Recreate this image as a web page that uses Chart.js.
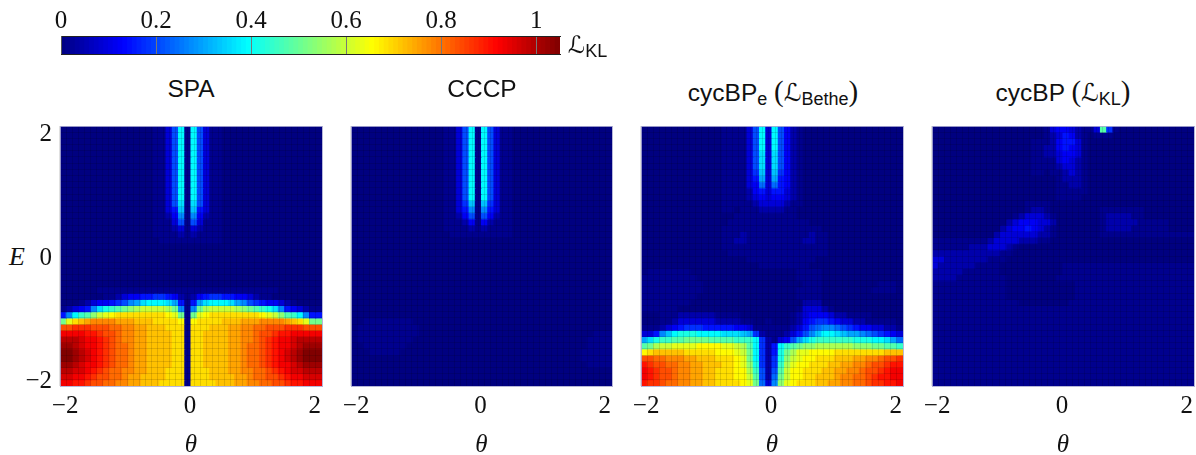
<!DOCTYPE html>
<html>
<head>
<meta charset="utf-8">
<title>Heatmap panels</title>
<script src="https://cdn.jsdelivr.net/npm/chart.js@4"></script>
<style>
    html, body { margin: 0; padding: 0; background: #fff; overflow: hidden; width: 1196px; height: 455px; }
    canvas { position: absolute; }
    .label { position: absolute; white-space: nowrap; color: #111; line-height: 1; }
    .title { font-family: "Liberation Sans", sans-serif; font-size: 24.5px; transform: translateX(-50%); top: 77px; }
    .title sub, #legendName sub { font-size: 18px; vertical-align: baseline; position: relative; top: 4px; }
    .script { font-family: "DejaVu Sans", serif; }
    .paren { font-family: "Liberation Serif", serif; font-size: 29px; }
    #energyLabel { font-family: "Liberation Serif", serif; font-style: italic; font-size: 26px; left: 9px; top: 244px; }
    #legendName { font-family: "Liberation Sans", sans-serif; font-size: 24px; left: 568px; top: 33px; }
</style>
</head>
<body>
<canvas id="colorbar" width="600" height="60" style="left:0;top:0"></canvas>
<div class="label" id="legendName"><span class="script">ℒ</span><sub>KL</sub></div>

<div class="label title" style="left:191px">SPA</div>
<div class="label title" style="left:482px">CCCP</div>
<div class="label title" style="left:773px">cycBP<sub>e</sub> <span class="paren">(</span><span class="script">ℒ</span><sub>Bethe</sub><span class="paren">)</span></div>
<div class="label title" style="left:1063px">cycBP <span class="paren">(</span><span class="script">ℒ</span><sub>KL</sub><span class="paren">)</span></div>
<div class="label" id="energyLabel">E</div>

<canvas id="spa" width="326" height="340" style="left:0;top:120px"></canvas>
<canvas id="cccp" width="295" height="340" style="left:321px;top:120px"></canvas>
<canvas id="cycbpe" width="296" height="340" style="left:611px;top:120px"></canvas>
<canvas id="cycbp" width="296" height="340" style="left:902px;top:120px"></canvas>

<script>
// Each string is one row of cells, top row first (E = 2.1 going down), 42 columns
// from theta = -2 to 2.1. One base 36 digit per cell, value = digit * 0.03,
// except digits 1 and 2 which are the faint patch levels (see faintValues).
const spaRows = [
    "0000000000000001137d1d73110000000000000000",
    "0000000000000001137d1d73110000000000000000",
    "0000000000000001137d1d73110000000000000000",
    "0000000000000001137d1d73110000000000000000",
    "0000000000000001137d1d73110000000000000000",
    "0000000000000001137d1d73110000000000000000",
    "0000000000000001137d1d73110000000000000000",
    "0000000000000001137d1d73110000000000000000",
    "0000000000000001137d1d73110000000000000000",
    "0000000000000001137d1d73110000000000000000",
    "0000000000000001137d1d73110000000000000000",
    "0000000000000001137d1d73110000000000000000",
    "0000000000000001137c1c73110000000000000000",
    "0000000000000001135b1b53110000000000000000",
    "000000000000000112491942110000000000000000",
    "000000000000000111371731110000000000000000",
    "000000000000000111231321110000000000000000",
    "000000000000000111121211110000000000000000",
    "000000000000000011111111110000000000000000",
    "000000000000000000000000000000000000000000",
    "000000000000000000000000000000000000000000",
    "000000000000000000000000000000000000000000",
    "000000000000000000000000000000000000000000",
    "000000000000000000000000000000000000000000",
    "000000000000000000000000000000000000000000",
    "000000000000000000000000000000000000000000",
    "000000111111111111111111111111111110000000",
    "000000011234455665421245665544321100000000",
    "000123445679acdddca515acdddca9765443210000",
    "123459cefghijkkkkjh919hjkkkkjihgfec9543211",
    "59dfgiklmnnnnnnnnmlh1hlmnnnnnnnnmlkigfd955",
    "hlnopqqqqpppooonnnnm1mnnnnooopppqqqqponlhh",
    "sstttsssrrqqppooonnn1nnnoooppqqrrssstttsss",
    "vvvvuutssrqqppoooonn1nnooooppqqrsstuuvvvvv",
    "xxxwvvutsrqqppoooonn1nnooooppqqrstuvvwxxxx",
    "yyxwvvutsrrqppoooonn1nnooooppqrrstuvvwxyyy",
    "zzyxwvutsrrqppoooonn1nnooooppqrrstuvwxyzzz",
    "zzyxwvutsrrqppoooonn1nnooooppqrrstuvwxyzzz",
    "yyxwvvutsrrqppoooonn1nnooooppqrrstuvvwxyyy",
    "xxwwvutsrrqqppooonnn1nnnoooppqqrrstuvwwxxx",
    "wwvvutssrrqppoooonnn1nnnooooppqrrsstuvvwww",
    "vvuutssrrqqppooonnnn1nnnnoooppqqrrsstuuvvv",
];

const cccpRows = [
    "0000000000000001137d1d73110000000000000000",
    "0000000000000001137d1d73110000000000000000",
    "0000000000000001137d1d73110000000000000000",
    "0000000000000001137d1d73110000000000000000",
    "0000000000000001137d1d73110000000000000000",
    "0000000000000001137d1d73110000000000000000",
    "0000000000000001137d1d73110000000000000000",
    "0000000000000001137d1d73110000000000000000",
    "0000000000000001137d1d73110000000000000000",
    "0000000000000001137d1d73110000000000000000",
    "0000000000000001137d1d73110000000000000000",
    "0000000000000001137d1d73110000000000000000",
    "0000000000000001136b1b63110000000000000000",
    "000000000000000113591953110000000000000000",
    "000000000000000112471742110000000000000000",
    "000000000000000111241421110000000000000000",
    "000000000000000111121211110000000000000000",
    "000000000000000011111111110000000000000000",
    "000000000000000000000000000000000000000000",
    "000000000000000000000000000000000000000000",
    "000000000000000000000000000000000000000000",
    "000000000000000000000000000000000000000000",
    "000000000000000000000000000000000000000000",
    "000000000000000000000000000000000000000000",
    "000000000000000000000000000000000000000000",
    "000000000000000000000000000000000000000000",
    "000000000000000000000000000000000000000000",
    "000000000000000000000000000000000000000000",
    "000000000000000000000000000000000000000000",
    "000000000000000000000000000000000000000000",
    "000000000000000000000000000000000000000000",
    "001111111100000000000000000000000000000000",
    "011111111110000000000000000000000000000000",
    "011111111110000000000000000000000000000111",
    "011111111100000000000000000000000000001111",
    "001111111000000000000000000000000000001111",
    "000111110000000000000000000000000000011111",
    "000000000000000000000000000000000000011111",
    "000000000000000000000000000000000000001111",
    "000000000000000000000000000000000000000000",
    "000000000000000000000000000000000000000000",
    "000000000000000000000000000000000000000000",
];

const cycbpeRows = [
    "0000000000000111137d3d74210000000000000000",
    "0000000000000111137d3d74210000000000000000",
    "0000000000000111137d3d74210000000000000000",
    "0000000000000111137d3d74210000000000000000",
    "0000000000000111137c3c74210000000000000000",
    "0000000000000111137c3c74210000000000000000",
    "0000000000000111137c3c74210000000000000000",
    "0000000000000111136b3b64210000000000000000",
    "0000000000000111135a3a54210000000000000000",
    "000000000000011113483854210000000000000000",
    "000000000000011112453553210000000000000000",
    "000000000000011112343443210000000000000000",
    "000000000000011111233332110000000000000000",
    "000000000000011011122221100000000000000000",
    "000000000000000111111111100000000000000000",
    "000000000000001111111111111000000000000000",
    "000000000000011111111111111110000000000000",
    "000000000000011121111111111211000000000000",
    "000000000000011221111111112211000000000000",
    "000000000000011111111111111111000000000000",
    "000000000000001111111111111111000000000000",
    "000000000000000001111111111100000000000000",
    "000000000000000000011111111000000000000000",
    "011111110000000000000000011110000000000000",
    "111111111000000000000000011110000000000000",
    "111111111100000000000000001110000000001110",
    "111111111100000000000000011110000000011110",
    "111111111000000000000000011110000000000000",
    "111111110000000000000000002220000000000000",
    "111111000000000000000000013332100000000000",
    "000111222222111100000000123444322111100000",
    "000112333333222211001000124566543322111110",
    "111234566655555443111111235789987654433221",
    "3359bdeeeddddcccba6211123579bddcbaa9876543",
    "aceffgghhhhggggfffd621347aceffffffeeeddca8",
    "ghjkkllllmmmmllkjgd625dfghiijjjjjjiiihhggf",
    "mnooooonnnnnmmmlkhd625ehjllmmmmnnnnnnnnooo",
    "ssrrqqqppooonnnmlhd626eiklmmnnnoooppqqrsst",
    "utssrrqqppooonnmlie626fjlmmnnnooppqqrsstuu",
    "vutssrqqppoonnnmmjf727gkmmnnnooppqqrsstuvv",
    "vutssrqqppoonnnmmkg728hkmmnnooopqqrrstuuvv",
    "uttsrrqqppoonnnnmlh839ilmnnnooppqqrrsttuuv",
];

const cycbpRows = [
    "000000000000000000134432113g61000000000000",
    "000000000000000000123542101110000000000000",
    "000000000000000011124553100000000000000000",
    "000000000000000011224543100000000000000000",
    "000000000000000011223443100000000000000000",
    "000000000000000011113432100000000000000000",
    "000000000000000011112332100000000000000000",
    "000000000000000011011232100000000000000000",
    "000000000000000000001222100000000000000000",
    "000000000000000000001122100000000000000000",
    "000000000000000000001111100000000000000000",
    "000000000000000000001111000000000000000000",
    "000000000000000111100000000000000000000000",
    "000000000000000122100000000111111100000000",
    "000000000000012333210000000122221100000000",
    "000000000000234443320000000122222111110000",
    "000000000002344543210000000122221111110000",
    "000000000023333332210000000111111111111111",
    "111111111233332221100000000000000000000000",
    "111111222333210000000000000000000000000000",
    "222222222221100000000000000000000000000000",
    "332222222111000000000000000000000000000000",
    "322222211110000000000111111111111111111111",
    "222221111110000000000111111111111111111111",
    "222211111111000000001111111111111111111111",
    "111111111111000000000001111111111111111111",
    "111111111111000000000001111111111111111111",
    "111111111111000000000001111111111111111111",
    "111111111111110000000011111111111111111111",
    "111111111111111111111111111111111111111111",
    "111111111111111111111111111111111111111111",
    "111111111111111111111111111111111111111111",
    "111111111111111111111111111111111111111111",
    "111111111111111111111111111111111111111111",
    "111111111111111111111111111111111111111111",
    "111111111111111111111111111111111111111111",
    "111111111111111111111111111111111111111111",
    "111111111111111111111111111111111111111111",
    "111111111111111111111111111111111111111111",
    "111111111111111111111111111111111111111111",
    "111111111111111111111111111111111111111111",
    "111111111111111111111111111111111111111111",
];

const axisTicks = [-2, 0, 2];
const axisTickLabels = ["\u22122", "0", "2"];
const colorbarTicks = [0, 0.2, 0.4, 0.6, 0.8, 1];
const colorbarTickLabels = ["0", "0.2", "0.4", "0.6", "0.8", "1"];

const valueMax = 1.05;
const valueStep = 0.03;
const faintValues = { 1: 0.015, 2: 0.045 };
const cellSize = 0.1;
const tickFont = { family: "'Liberation Serif', serif", size: 25 };
const frameBorder = { color: "rgba(175, 175, 215, 0.85)", dash: [3, 3], width: 1, z: 2 };

Chart.defaults.color = "#111";
Chart.defaults.animation = false;

function clamp01(v) {
    return Math.min(1, Math.max(0, v));
}

// Jet colormap, returned as [r, g, b] from 0 to 255
function jet(value) {
    const t = value / valueMax;
    return [
        clamp01(1.5 - Math.abs(4 * t - 3)) * 255,
        clamp01(1.5 - Math.abs(4 * t - 2)) * 255,
        clamp01(1.5 - Math.abs(4 * t - 1)) * 255,
    ];
}

function rgbString(rgb) {
    const parts = rgb.map((c) => Math.round(c));
    return `rgb(${parts[0]}, ${parts[1]}, ${parts[2]})`;
}

function decodeCell(c) {
    const digit = parseInt(c, 36);
    return digit in faintValues ? faintValues[digit] : digit * valueStep;
}

// One floating bar dataset for each row of the heatmap
function buildRowDatasets(rows) {
    return rows.map((row, rowIndex) => {
        if (row.length !== 42) {
            console.error("Bad row length", rowIndex, row.length);
        }
        const top = 2.1 - rowIndex * cellSize;
        const values = Array.from(row).map(decodeCell);
        return {
            data: values.map((value, col) => ({
                x: -2 + col * cellSize,
                y: [top - cellSize, top],
            })),
            backgroundColor: values.map((v) => rgbString(jet(v))),
        };
    });
}

function setTicks(values) {
    return function (scale) {
        scale.ticks = values.map((v) => ({ value: v }));
    };
}

// Stop tick labels from pushing the plot area around
function fixSize(height, width) {
    return function (scale) {
        if (height !== null) scale.height = height;
        if (width !== null) scale.width = width;
        scale.paddingLeft = 0;
        scale.paddingRight = 0;
        scale.paddingTop = 0;
        scale.paddingBottom = 0;
    };
}

// Cell edges for the mesh lines: start, start + 0.1, ... 43 of them
function cellEdges(start) {
    const edges = [];
    for (let i = 0; i <= 42; i++) {
        edges.push(Math.round((start + i * cellSize) * 100) / 100);
    }
    return edges;
}

// Axis with no labels, only thin dark lines over the cells
function meshAxis(position, min, max) {
    const horizontal = position === "top";
    return {
        type: "linear",
        position: position,
        min: min,
        max: max,
        afterBuildTicks: setTicks(cellEdges(min)),
        afterFit: horizontal ? fixSize(0, null) : fixSize(null, 0),
        ticks: { display: false, autoSkip: false },
        grid: { color: "rgba(0, 0, 0, 0.12)", lineWidth: 1, drawTicks: false, z: 1 },
        border: { display: false },
    };
}

// Dashed edge of the plot for the two sides without a real axis
function frameAxis(position) {
    const horizontal = position === "top";
    return {
        type: "linear",
        position: position,
        afterFit: horizontal ? fixSize(0, null) : fixSize(null, 0),
        ticks: { display: false },
        grid: { display: false, drawTicks: false },
        border: frameBorder,
    };
}

function drawHeatmap(canvasId, rows, showEnergyAxis) {
    const ctx = document.getElementById(canvasId).getContext("2d");
    new Chart(ctx, {
        type: "bar",
        data: { datasets: buildRowDatasets(rows) },
        options: {
            responsive: false,
            events: [],
            layout: { padding: { left: showEnergyAxis ? 0 : 30, right: 4, top: 6, bottom: 0 } },
            datasets: {
                bar: {
                    grouped: false,
                    barPercentage: 1,
                    categoryPercentage: 1,
                    borderWidth: 0,
                    inflateAmount: 0.5,
                },
            },
            plugins: { legend: { display: false }, tooltip: { enabled: false } },
            scales: {
                x: {
                    type: "linear",
                    offset: false,
                    min: -2.05,
                    max: 2.15,
                    afterBuildTicks: setTicks(axisTicks),
                    afterFit: fixSize(74, null),
                    grid: { display: false, drawTicks: false },
                    border: frameBorder,
                    ticks: {
                        font: tickFont,
                        padding: 5,
                        labelOffset: 2,
                        maxRotation: 0,
                        autoSkip: false,
                        callback: (value) => axisTickLabels[axisTicks.indexOf(value)],
                    },
                    title: {
                        display: true,
                        text: "θ",
                        font: { family: "'Liberation Serif', serif", size: 25, style: "italic" },
                        padding: 0,
                    },
                },
                y: {
                    type: "linear",
                    min: -2.1,
                    max: 2.1,
                    afterBuildTicks: setTicks(axisTicks),
                    afterFit: fixSize(null, showEnergyAxis ? 60 : 0),
                    grid: { display: false, drawTicks: false },
                    border: frameBorder,
                    ticks: {
                        display: showEnergyAxis,
                        font: tickFont,
                        padding: 8,
                        labelOffset: 2,
                        autoSkip: false,
                        callback: (value) => axisTickLabels[axisTicks.indexOf(value)],
                    },
                },
                meshX: meshAxis("top", -2.05, 2.15),
                meshY: meshAxis("right", -2.1, 2.1),
                frameTop: frameAxis("top"),
                frameRight: frameAxis("right"),
            },
        },
    });
}

function drawColorbar() {
    const ctx = document.getElementById("colorbar").getContext("2d");

    // Colour key: 105 thin steps across the value range
    const stops = [];
    for (let i = 0; i < 105; i++) {
        stops.push((i + 0.5) * (valueMax / 105));
    }

    new Chart(ctx, {
        type: "bar",
        data: {
            datasets: [
                {
                    data: stops.map((v) => ({ x: v, y: [0, 1] })),
                    backgroundColor: stops.map((v) => rgbString(jet(v))),
                },
            ],
        },
        options: {
            responsive: false,
            events: [],
            layout: { padding: { left: 61, right: 40, top: 0, bottom: 6 } },
            datasets: {
                bar: { barPercentage: 1, categoryPercentage: 1, inflateAmount: 0.5 },
            },
            plugins: { legend: { display: false }, tooltip: { enabled: false } },
            scales: {
                x: {
                    type: "linear",
                    position: "top",
                    offset: false,
                    min: 0,
                    max: valueMax,
                    afterBuildTicks: setTicks(colorbarTicks),
                    afterFit: fixSize(36, null),
                    grid: { color: "#777", drawTicks: false, offset: false, z: 1 },
                    border: { color: "#222", z: 2 },
                    ticks: {
                        font: tickFont,
                        padding: 0,
                        maxRotation: 0,
                        autoSkip: false,
                        callback: (value) =>
                            colorbarTickLabels[colorbarTicks.indexOf(value)],
                    },
                },
                y: {
                    type: "linear",
                    min: 0,
                    max: 1,
                    ticks: { display: false },
                    grid: { display: false, drawTicks: false },
                    border: { color: "#555", z: 2 },
                    afterFit: fixSize(null, 0),
                },
                edgeBottom: {
                    type: "linear",
                    position: "bottom",
                    ticks: { display: false },
                    grid: { display: false, drawTicks: false },
                    border: { color: "#222", z: 2 },
                    afterFit: fixSize(0, null),
                },
            },
        },
    });
}

drawColorbar();
drawHeatmap("spa", spaRows, true);
drawHeatmap("cccp", cccpRows, false);
drawHeatmap("cycbpe", cycbpeRows, false);
drawHeatmap("cycbp", cycbpRows, false);
</script>
</body>
</html>
